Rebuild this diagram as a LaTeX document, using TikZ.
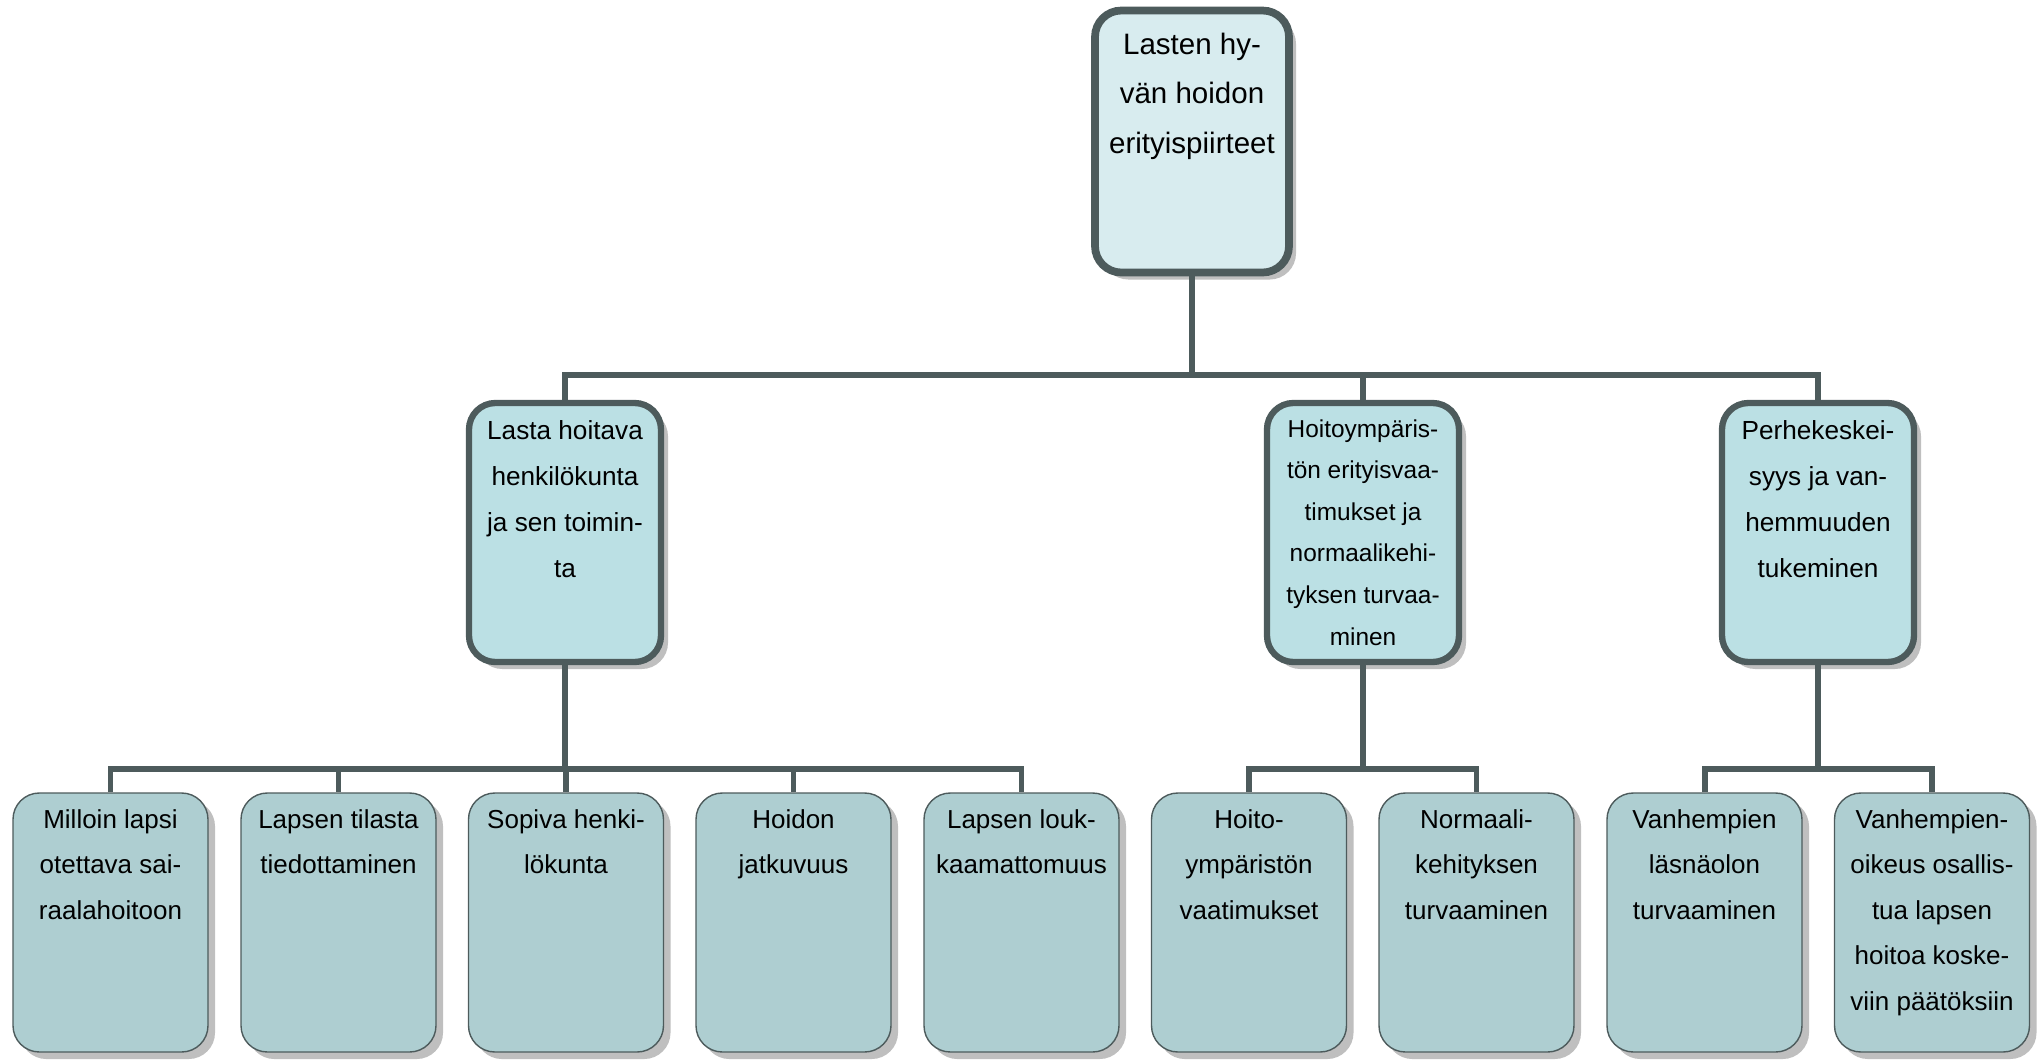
\documentclass[tikz,border=0pt]{standalone}
\usepackage{fontspec}
\setmainfont{Liberation Sans}
\usetikzlibrary{shadows, positioning}

\definecolor{topfill}{RGB}{216,236,239}
\definecolor{midfill}{RGB}{187,224,228}
\definecolor{leaffill}{RGB}{174,206,209}
\definecolor{edgegray}{RGB}{77,91,92}

\newlength{\unitpx}
\setlength{\unitpx}{0.02cm}
% box content: width, height, first baseline, lines
\newcommand{\boxtext}[4]{\parbox[t][#2\unitpx][t]{#1\unitpx}{\centering\rule{0pt}{#3\unitpx}#4}}

\begin{document}
\begin{tikzpicture}[x=0.02cm, y=-0.02cm, line join=miter,
    box/.style={rounded corners=15pt, inner sep=0pt, draw=edgegray,
        general shadow={fill=black!25, shadow xshift=4pt, shadow yshift=-4pt}},
    topbox/.style={box, fill=topfill, line width=4.4pt, font=\fontsize{16.8}{28.1}\selectfont},
    midbox/.style={box, fill=midfill, line width=3.6pt, font=\fontsize{14.9}{26.2}\selectfont},
    envbox/.style={midbox, font=\fontsize{13.9}{23.7}\selectfont},
    leafbox/.style={box, fill=leaffill, line width=0.8pt, font=\fontsize{14.8}{25.9}\selectfont},
    link/.style={draw=edgegray, line width=3.4pt}]
    \useasboundingbox (0,0) rectangle (2040,1059);

    % top level
    \node[topbox] (root) at (1192,141.5) {\boxtext{194}{262}{44}{Lasten hy-\\vän hoidon\\erityispiirteet}};

    % second level
    \node[midbox] (staff) at (565,532.5) {\boxtext{192}{259}{36}{Lasta hoitava\\henkilökunta\\ja sen toimin-\\ta}};
    \node[envbox] (env) at (1363,532.5) {\boxtext{192}{259}{34}{Hoitoympäris-\\tön erityisvaa-\\timukset ja\\normaalikehi-\\tyksen turvaa-\\minen}};
    \node[midbox] (family) at (1818,532.5) {\boxtext{192}{259}{36}{Perhekeskei-\\syys ja van-\\hemmuuden\\tukeminen}};

    % third level
    \node[leafbox] (when) at (110.5,922.5) {\boxtext{195}{259}{35}{Milloin lapsi\\otettava sai-\\raalahoitoon}};
    \node[leafbox] (inform) at (338.5,922.5) {\boxtext{195}{259}{35}{Lapsen tilasta\\tiedottaminen}};
    \node[leafbox] (suitable) at (566,922.5) {\boxtext{195}{259}{35}{Sopiva henki-\\lökunta}};
    \node[leafbox] (contin) at (793.5,922.5) {\boxtext{195}{259}{35}{Hoidon\\jatkuvuus}};
    \node[leafbox] (inviol) at (1021.5,922.5) {\boxtext{195}{259}{35}{Lapsen louk-\\kaamattomuus}};
    \node[leafbox] (envreq) at (1249,922.5) {\boxtext{195}{259}{35}{Hoito-\\ympäristön\\vaatimukset}};
    \node[leafbox] (normal) at (1476.5,922.5) {\boxtext{195}{259}{35}{Normaali-\\kehityksen\\turvaaminen}};
    \node[leafbox] (presence) at (1704.5,922.5) {\boxtext{195}{259}{35}{Vanhempien\\läsnäolon\\turvaaminen}};
    \node[leafbox] (decide) at (1932,922.5) {\boxtext{195}{259}{35}{Vanhempien-\\oikeus osallis-\\tua lapsen\\hoitoa koske-\\viin päätöksiin}};

    % connectors
    \coordinate (rootbus) at (1192,375);
    \coordinate (staffbus) at (565,769);
    \coordinate (envbus) at (1363,769);
    \coordinate (familybus) at (1818,769);

    \draw[link] (root.south) -- (rootbus);
    \draw[link] (staff.north) |- (rootbus) -| (family.north);
    \draw[link] (rootbus) -| (env.north);

    \draw[link] (staff.south) -- (staffbus);
    \draw[link] (when.north) |- (staffbus) -| (inviol.north);
    \foreach \leaf in {inform, suitable, contin}
        \draw[link] (staffbus) -| (\leaf.north);

    \draw[link] (env.south) -- (envbus);
    \draw[link] (envreq.north) |- (envbus) -| (normal.north);

    \draw[link] (family.south) -- (familybus);
    \draw[link] (presence.north) |- (familybus) -| (decide.north);
\end{tikzpicture}
\end{document}
